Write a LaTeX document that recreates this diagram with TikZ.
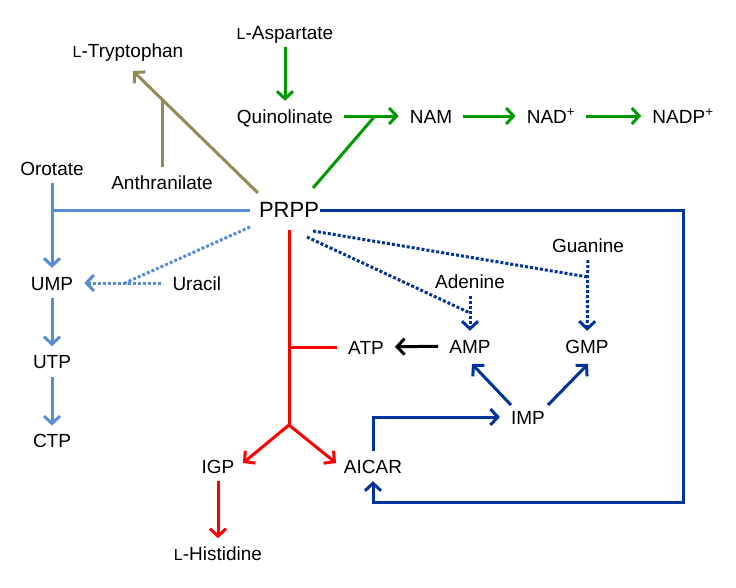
\documentclass[tikz,border=0pt]{standalone}
\usepackage{fontspec}
\setmainfont{Liberation Sans}
\usetikzlibrary{arrows.meta, positioning}
\definecolor{nadgreen}{RGB}{0,153,0}
\definecolor{trpolive}{RGB}{148,138,84}
\definecolor{pyrblue}{RGB}{85,142,213}
\definecolor{purblue}{RGB}{0,51,153}
\definecolor{hisred}{RGB}{255,0,0}
\def\smL{{\fontsize{16}{16}\selectfont L}}
\tikzstyle{mol} = [inner xsep=11pt, inner ysep=8pt, text height=14pt, text depth=0pt]
\tikzstyle{ln} = [line width=3pt]
\tikzstyle{aro} = [ln, -{Straight Barb[length=7.5pt,width=16pt]}]
\tikzstyle{twoaro} = [ln, {Straight Barb[length=7.5pt,width=16pt]}-{Straight Barb[length=7.5pt,width=16pt]}]
\tikzstyle{dots} = [dash pattern=on 3pt off 2pt]

\begin{document}
\begin{tikzpicture}[x=1pt, y=-1pt, font=\fontsize{19}{22}\selectfont]
  \useasboundingbox (0,0) rectangle (736,587);

  \node (prpp) [mol, font=\fontsize{22}{24}\selectfont] at (289,210) {PRPP};

  % NAD
  \node (asp) [mol] at (285,32) {\smL-Aspartate};
  \node (quin) [mol] at (285,116) {Quinolinate};
  \node (nam) [mol] at (431,116) {NAM};
  \node (nad) [mol] at (551,116) {NAD\textsuperscript{+}};
  \node (nadp) [mol] at (683,116) {NADP\textsuperscript{+}};

  % Trp
  \node (trp) [mol] at (128,50) {\smL-Tryptophan};
  \node (anth) [mol] at (162,182) {Anthranilate};

  % pyrimidines
  \node (oro) [mol] at (52,168) {Orotate};
  \node (ump) [mol] at (52,283) {UMP};
  \node (ura) [mol, right=77pt of ump] {Uracil};
  \node (utp) [mol, below=48pt of ump] {UTP};
  \node (ctp) [mol, below=49pt of utp] {CTP};

  % purines
  \node (gua) [mol] at (588,245) {Guanine};
  \node (ade) [mol] at (470,281) {Adenine};
  \node (amp) [mol] at (470,346) {AMP};
  \node (gmp) [mol] at (587,346) {GMP};
  \node (atp) [mol] at (366,347) {ATP};
  \node (imp) [mol] at (528,417) {IMP};
  \node (aicar) [mol] at (373,466) {AICAR};

  % His
  \node (igp) [mol] at (218,466) {IGP};
  \node (his) [mol, below=57pt of igp] {\smL-Histidine};

  \coordinate (nadj) at (375,116);
  \coordinate (trpj) at (162,99.5);
  \coordinate (uraj) at (125,283);
  \coordinate (adej) at (470,313);
  \coordinate (guaj) at (588,277);
  \coordinate (fork) at (289,425);
  \coordinate (loop) at (683,502);

  \draw [aro, nadgreen] (asp) -- (quin);
  \draw [aro, nadgreen] (quin) -- (nam);
  \draw [ln, nadgreen] ([shift={(24,-22)}]prpp.center) -- (nadj);
  \draw [aro, nadgreen] (nam) -- (nad);
  \draw [aro, nadgreen] (nad) -- (nadp);

  \draw [aro, trpolive] ([shift={(-31,-17)}]prpp.center) -- ([shift={(5,21)}]trp.center);
  \draw [ln, trpolive] (anth) -- (trpj);

  \draw [aro, pyrblue] (oro) -- (ump);
  \draw [ln, pyrblue] ([shift={(-39,0)}]prpp.center) -- (oro |- prpp);
  \draw [ln, pyrblue, dots] ([shift={(-39,17)}]prpp.center) -- (uraj);
  \draw [aro, pyrblue, dots] (ura) -- (ump);
  \draw [aro, pyrblue] (ump) -- (utp);
  \draw [aro, pyrblue] (utp) -- (ctp);

  \draw [ln, hisred] ([shift={(0,20)}]prpp.center) -- (fork);
  \draw [ln, hisred] (prpp |- atp) -- (atp);
  \draw [twoaro, hisred] ([shift={(25,-3)}]igp.center) -- (fork) -- ([shift={(-37,-3)}]aicar.center);
  \draw [aro, hisred] (igp) -- (his);

  \draw [aro, purblue] ([shift={(31,0)}]prpp.center) -| (loop) -| (aicar);
  \draw [aro, purblue] (aicar) |- (imp);
  \draw [aro, purblue] ([shift={(-17,-12)}]imp.center) -- ([shift={(2,18)}]amp.center);
  \draw [aro, purblue] ([shift={(20,-12)}]imp.center) -- ([shift={(1,18)}]gmp.center);
  \draw [ln, purblue, dots] ([shift={(18,27)}]prpp.center) -- (adej);
  \draw [ln, purblue, dots] ([shift={(24,21)}]prpp.center) -- (guaj);
  \draw [aro, purblue, dots] (ade) -- (amp);
  \draw [aro, purblue, dots] (gua) -- (gmp);
  \draw [aro] (amp) -- (atp);

\end{tikzpicture}
\end{document}
